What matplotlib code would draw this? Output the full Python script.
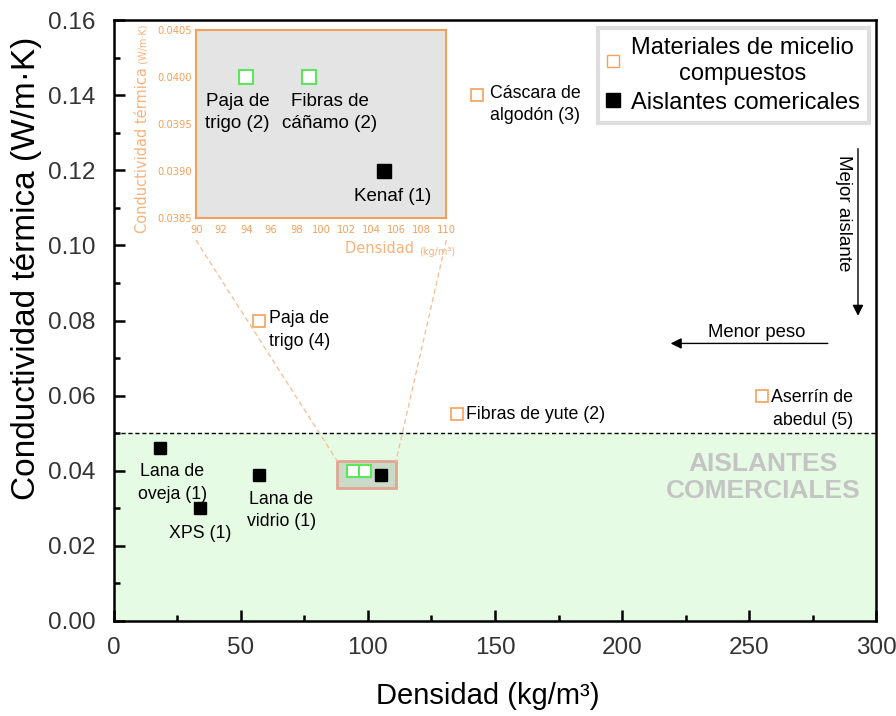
import matplotlib.pyplot as plt
from matplotlib.patches import Rectangle, ConnectionPatch
from matplotlib.lines import Line2D
from matplotlib.ticker import MultipleLocator, FormatStrFormatter

plt.rcParams['font.family'] = ['Liberation Sans', 'DejaVu Sans']

# Materiales de micelio (densidad, conductividad)
mic_x = [143, 57, 135, 255]
mic_y = [0.140, 0.080, 0.055, 0.060]
mic_lab = ['Cáscara de\nalgodón (3)', 'Paja de\ntrigo (4)', 'Fibras de yute (2)', 'Aserrín de\nabedul (5)']

# Aislantes comerciales
com_x = [18, 34, 57, 105]
com_y = [0.046, 0.030, 0.039, 0.039]
com_lab = ['Lana de\noveja (1)', 'XPS (1)', 'Lana de\nvidrio (1)', 'Kenaf (1)']

# Detalle del inset
ins_x = [94, 99]
ins_y = [0.040, 0.040]
ins_lab = ['Paja de\ntrigo (2)', 'Fibras de\ncáñamo (2)']

orange = '#f5a05a'
lorange = '#f8b27a'
green = '#5ce65c'

fig = plt.figure(figsize=(8.96, 7.16), dpi=100)
ax = fig.add_axes([0.127, 0.1327, 0.851, 0.8393])

ax.axhspan(0, 0.05, color='#e6fbe4', zorder=0)
ax.axhline(0.05, color='black', ls=(0, (3, 2)), lw=1, zorder=1)

ax.plot(mic_x, mic_y, 's', mfc='white', mec=orange, ms=8.5, mew=1.2, ls='none', zorder=4)
ax.plot(com_x, com_y, 's', color='black', ms=9, ls='none', zorder=4)
ax.plot(ins_x, ins_y, 's', mfc='white', mec=green, ms=9, mew=1.5, ls='none', zorder=4)

ax.add_patch(Rectangle((88, 0.0355), 23, 0.007, facecolor='#c9dbc8',
                       edgecolor='#e0a690', lw=2, zorder=3))

fs = 12.8
ls = 1.45
ax.text(148, 0.1375, mic_lab[0], fontsize=fs, va='center', ha='left', linespacing=ls)
ax.text(61, 0.0775, mic_lab[1], fontsize=fs, va='center', ha='left', linespacing=ls)
ax.text(138.5, 0.0551, mic_lab[2], fontsize=fs, va='center', ha='left')
ax.text(258.5, 0.0565, mic_lab[3], fontsize=fs, va='center', ha='left',
        multialignment='right', linespacing=ls)
ax.text(23, 0.0368, com_lab[0], fontsize=fs, va='center', ha='center', linespacing=ls)
ax.text(34, 0.0234, com_lab[1], fontsize=fs, va='center', ha='center')
ax.text(66, 0.0294, com_lab[2], fontsize=fs, va='center', ha='center', linespacing=ls)
ax.text(255.5, 0.0381, 'AISLANTES\nCOMERCIALES', fontsize=19, fontweight='bold',
        color='#c4c4c4', va='center', ha='center', linespacing=1.15)

# flechas
ax.annotate('', xy=(292.8, 0.0805), xytext=(292.8, 0.1265),
            arrowprops=dict(arrowstyle='-|>', color='black', lw=1, mutation_scale=16))
ax.text(287, 0.1087, 'Mejor aislante', rotation=-90, fontsize=13.5, va='center', ha='center')
ax.annotate('', xy=(218, 0.0739), xytext=(282, 0.0739),
            arrowprops=dict(arrowstyle='-|>', color='black', lw=1, mutation_scale=16))
ax.text(253, 0.0769, 'Menor peso', fontsize=13.3, va='center', ha='center')

ax.set_xlim(0, 300)
ax.set_ylim(0, 0.16)
ax.xaxis.set_major_locator(MultipleLocator(50))
ax.xaxis.set_minor_locator(MultipleLocator(25))
ax.yaxis.set_major_locator(MultipleLocator(0.02))
ax.yaxis.set_minor_locator(MultipleLocator(0.01))
ax.yaxis.set_major_formatter(FormatStrFormatter('%.2f'))
ax.tick_params(which='both', direction='in', width=1.8, labelsize=17.5, colors='black')
ax.tick_params(which='major', length=8)
ax.tick_params(which='minor', length=4)
ax.tick_params(axis='x', which='major', pad=11.5)
ax.tick_params(axis='y', which='major', pad=13)
ax.tick_params(labelcolor='#333333')
for s in ax.spines.values():
    s.set_linewidth(1.8)
ax.set_xlabel('Densidad (kg/m³)', fontsize=21)
ax.set_ylabel('Conductividad térmica (W/m·K)', fontsize=24)
ax.xaxis.set_label_coords(0.49, -0.125)
ax.xaxis.label.set_va('center')
ax.yaxis.set_label_coords(-0.114, 0.587)
ax.yaxis.label.set_va('center')

handles = [Line2D([], [], marker='s', mfc='white', mec=orange, ms=9, ls='none'),
           Line2D([], [], marker='s', color='black', ms=10, ls='none')]
leg = ax.legend(handles, ['Materiales de micelio\ncompuestos', 'Aislantes comericales'],
                loc='upper right', bbox_to_anchor=(0.997, 0.995), fontsize=17,
                fancybox=False, framealpha=1, edgecolor='#dedede',
                handletextpad=0.5, handlelength=0.5, borderpad=0.4, labelspacing=0.3,
                borderaxespad=0.2)
leg.get_frame().set_linewidth(3)
for t in leg.get_texts():
    t.set_multialignment('center')
leg.set_zorder(6)

# inset
axi = fig.add_axes([0.219, 0.6955, 0.279, 0.2626], facecolor='#e4e4e4')
axi.plot(ins_x, ins_y, 's', mfc='white', mec=green, ms=9.5, mew=1.5, ls='none')
axi.plot(com_x[3:], com_y[3:], 's', color='black', ms=9.5, ls='none')
axi.text(93.3, 0.03962, ins_lab[0], fontsize=13.5, va='center', ha='center', linespacing=1.35)
axi.text(100.7, 0.03962, ins_lab[1], fontsize=13.5, va='center', ha='center', linespacing=1.35)
axi.text(105.7, 0.03873, com_lab[3], fontsize=13.5, va='center', ha='center')
axi.set_xlim(90, 110)
axi.set_ylim(0.0385, 0.0405)
axi.xaxis.set_major_locator(MultipleLocator(2))
axi.yaxis.set_major_locator(MultipleLocator(0.0005))
axi.yaxis.set_major_formatter(FormatStrFormatter('%.4f'))
axi.tick_params(direction='in', length=0, colors=orange, labelsize=7.2)
axi.tick_params(axis='x', pad=5)
axi.tick_params(axis='y', pad=3)
for lab in axi.get_xticklabels() + axi.get_yticklabels():
    lab.set_family('DejaVu Sans')
for s in axi.spines.values():
    s.set_color(orange)
    s.set_linewidth(1.5)

# etiquetas del inset con unidades mas pequenas
u = axi.text(1.035, -0.18, '(kg/m³)', transform=axi.transAxes, fontsize=7,
             color=lorange, family='DejaVu Sans', ha='right', va='center')
axi.annotate('Densidad ', xy=(0, 0.1), xycoords=u, fontsize=10.5, color=lorange,
             family='DejaVu Sans', ha='right', va='bottom')
cv = axi.text(-0.215, -0.08, 'Conductividad térmica', transform=axi.transAxes,
              fontsize=10.5, color=lorange, family='DejaVu Sans', rotation=90,
              ha='center', va='bottom')
axi.annotate(' (W/m·K)', xy=(0.6, 1.0), xycoords=cv, fontsize=7, color=lorange,
             family='DejaVu Sans', rotation=90, ha='center', va='bottom')

for xa, xb in [(0, 88), (1, 111)]:
    con = ConnectionPatch(xyA=(xa, -0.12), coordsA=axi.transAxes,
                          xyB=(xb, 0.0425), coordsB=ax.transData,
                          color='#f5c29a', ls=(0, (3, 3)), lw=1)
    fig.add_artist(con)

fig.savefig('out.png', dpi=100)
